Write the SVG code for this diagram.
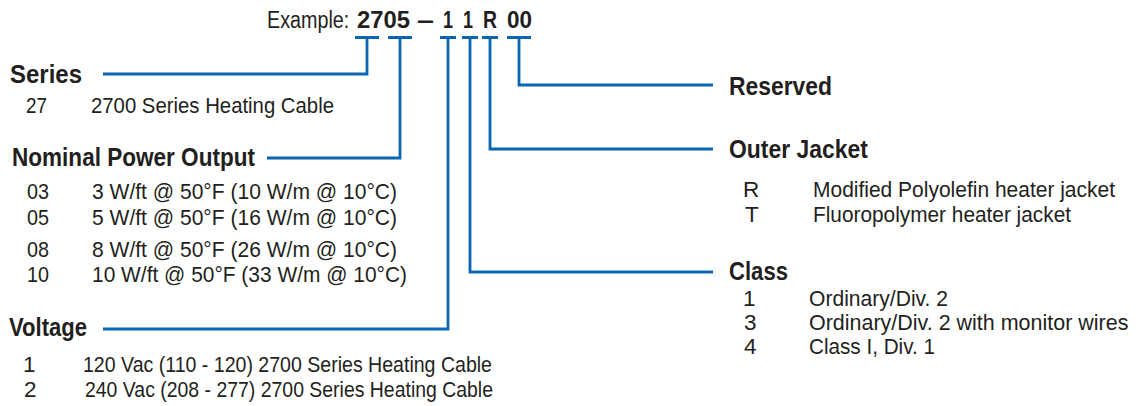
<svg xmlns="http://www.w3.org/2000/svg" width="1136" height="406" viewBox="0 0 1136 406">
<style>
text{font-family:"Liberation Sans Narrow","Liberation Sans",Arial,sans-serif;fill:#231f20}
.h{font-weight:bold;font-size:26.5px}
.r{font-size:22.5px}
.ex{font-size:23.5px}
.exb{font-size:23.5px;font-weight:bold}
.c{fill:none;stroke:#0a66b0;stroke-width:2.8;stroke-linecap:butt;stroke-linejoin:miter}
</style>
<rect width="1136" height="406" fill="#ffffff"/>
<g id="example">
<text class="ex" transform="matrix(0.84,0,0,1,267,28)" x="0" y="0">Example:</text>
<text class="exb" y="28"><tspan x="357" textLength="53" lengthAdjust="spacingAndGlyphs">2705</tspan><tspan x="417" textLength="17" lengthAdjust="spacingAndGlyphs">–</tspan><tspan x="443" textLength="10" lengthAdjust="spacingAndGlyphs">1</tspan><tspan x="463" textLength="10" lengthAdjust="spacingAndGlyphs">1</tspan><tspan x="483" textLength="14" lengthAdjust="spacingAndGlyphs">R</tspan><tspan x="507" textLength="25" lengthAdjust="spacingAndGlyphs">00</tspan></text>
</g>
<g id="connectors">
<path class="c" d="M355 37.5H379M367 37.5V74H103"/>
<path class="c" d="M388 37.5H412M400 37.5V158H267"/>
<path class="c" d="M440 37.5H456M448 37.5V329H103"/>
<path class="c" d="M462 37.5H478M470 37.5V272H713"/>
<path class="c" d="M482 37.5H498M490 37.5V149H713"/>
<path class="c" d="M507 37.5H531M519 37.5V85H713"/>
</g>
<g id="series">
<text class="h" x="10" y="83" textLength="72" lengthAdjust="spacingAndGlyphs">Series</text>
<text class="r" x="26" y="113" textLength="21" lengthAdjust="spacingAndGlyphs">27</text>
<text class="r" x="91" y="113" textLength="243" lengthAdjust="spacingAndGlyphs">2700 Series Heating Cable</text>
</g>
<g id="nominal-power-output">
<text class="h" x="12" y="166" textLength="243" lengthAdjust="spacingAndGlyphs">Nominal Power Output</text>
<text class="r" x="27" y="199" textLength="22" lengthAdjust="spacingAndGlyphs">03</text>
<text class="r" x="92" y="199" textLength="305" lengthAdjust="spacingAndGlyphs">3 W/ft @ 50°F (10 W/m @ 10°C)</text>
<text class="r" x="27" y="225" textLength="22" lengthAdjust="spacingAndGlyphs">05</text>
<text class="r" x="92" y="225" textLength="305" lengthAdjust="spacingAndGlyphs">5 W/ft @ 50°F (16 W/m @ 10°C)</text>
<text class="r" x="27" y="257" textLength="22" lengthAdjust="spacingAndGlyphs">08</text>
<text class="r" x="92" y="257" textLength="305" lengthAdjust="spacingAndGlyphs">8 W/ft @ 50°F (26 W/m @ 10°C)</text>
<text class="r" x="27" y="282" textLength="22" lengthAdjust="spacingAndGlyphs">10</text>
<text class="r" x="92" y="282" textLength="315" lengthAdjust="spacingAndGlyphs">10 W/ft @ 50°F (33 W/m @ 10°C)</text>
</g>
<g id="voltage">
<text class="h" x="9" y="336" textLength="78" lengthAdjust="spacingAndGlyphs">Voltage</text>
<text class="r" x="23" y="372">1</text>
<text class="r" x="83" y="372" textLength="409" lengthAdjust="spacingAndGlyphs">120 Vac (110 - 120) 2700 Series Heating Cable</text>
<text class="r" x="24" y="397">2</text>
<text class="r" x="85" y="397" textLength="408" lengthAdjust="spacingAndGlyphs">240 Vac (208 - 277) 2700 Series Heating Cable</text>
</g>
<g id="reserved">
<text class="h" x="729" y="95" textLength="103" lengthAdjust="spacingAndGlyphs">Reserved</text>
</g>
<g id="outer-jacket">
<text class="h" x="729" y="158" textLength="139" lengthAdjust="spacingAndGlyphs">Outer Jacket</text>
<text class="r" x="743" y="197">R</text>
<text class="r" x="813" y="197" textLength="302" lengthAdjust="spacingAndGlyphs">Modified Polyolefin heater jacket</text>
<text class="r" x="745" y="222">T</text>
<text class="r" x="813" y="222" textLength="258" lengthAdjust="spacingAndGlyphs">Fluoropolymer heater jacket</text>
</g>
<g id="class">
<text class="h" x="729" y="280" textLength="59" lengthAdjust="spacingAndGlyphs">Class</text>
<text class="r" x="743" y="306">1</text>
<text class="r" x="809" y="306" textLength="139" lengthAdjust="spacingAndGlyphs">Ordinary/Div. 2</text>
<text class="r" x="744" y="330">3</text>
<text class="r" x="744" y="354">4</text>
<text class="r" transform="matrix(0.955,0,0,1,809,330)" x="0" y="0">Ordinary/Div. 2 with monitor wires</text>
<text class="r" x="809" y="354" textLength="126" lengthAdjust="spacingAndGlyphs">Class I, Div. 1</text>
</g>
</svg>
